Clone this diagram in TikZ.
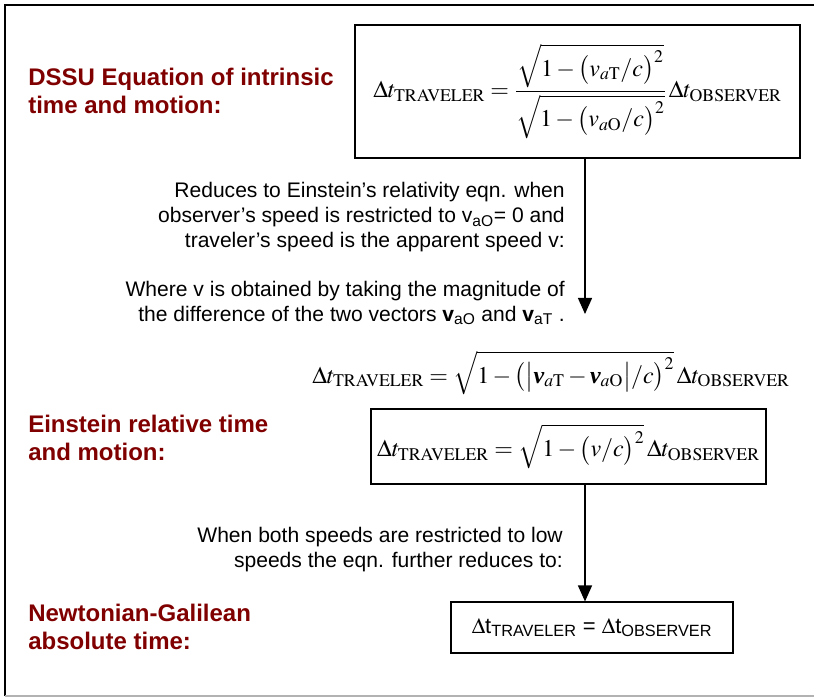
\documentclass[tikz,border=0pt]{standalone}
\usepackage{mathptmx}
\usepackage[no-math]{fontspec}
\setmainfont{Liberation Serif}
\setsansfont{Liberation Sans}
\usetikzlibrary{arrows.meta}
\definecolor{lblred}{RGB}{128,0,0}
\newcommand{\bvec}{\mbox{\normalfont\bfseries\itshape v}}
\newcommand{\TR}{\mathrm{TRAVELER}}
\newcommand{\OB}{\mathrm{OBSERVER}}
\tikzset{
  redlbl/.style={anchor=west,align=left,inner sep=0pt,text=lblred,
    font=\sffamily\bfseries\fontsize{18}{21}\selectfont},
  notetxt/.style={anchor=east,align=right,inner sep=0pt,
    font=\sffamily\fontsize{15.8}{18.75}\selectfont},
  eqbox/.style={draw,line width=0.8pt,inner sep=0pt},
  eqfont/.style={font=\fontsize{18}{21}\selectfont},
  flowarrow/.style={line width=1pt,-{Triangle[length=12pt,width=10.5pt]}}
}
\begin{document}
\begin{tikzpicture}[x=0.75pt,y=0.75pt,yscale=-1,xscale=1]
\useasboundingbox (0,0) rectangle (814,698);

% frame
\draw [line width=1.2pt] (5,696) -- (5,5) -- (814,5);
\draw [color=black!30,line width=1.2pt] (5,696) -- (814,696);

% labels on the left
\node [redlbl] (dssu) at (28,91) {DSSU Equation of intrinsic\\time and motion:};
\node [redlbl] (einst) at (28,437.5) {Einstein relative time\\and motion:};
\node [redlbl] (newt) at (28,627) {Newtonian-Galilean\\absolute time:};

% equation boxes
\node [eqbox,eqfont,minimum width=333.75pt,minimum height=99.75pt] (box1) at (577.5,91.5)
  {$\displaystyle \Delta t_{\TR}=\frac{\sqrt{1-\bigl(v_{a\mathrm{T}}/c\bigr)^{2}}}{\sqrt{1-\bigl(v_{a\mathrm{O}}/c\bigr)^{2}}}\,\Delta t_{\OB}$};
\node [eqfont,inner sep=0pt] (eqdiff) at (551,373)
  {$\Delta t_{\TR}=\sqrt{1-\bigl(\bigl|\bvec_{a\mathrm{T}}-\bvec_{a\mathrm{O}}\bigr|/c\bigr)^{2}}\,\Delta t_{\OB}$};
\node [eqbox,eqfont,minimum width=296.25pt,minimum height=56.25pt] (box2) at (568.5,446.5)
  {$\Delta t_{\TR}=\sqrt{1-\bigl(v/c\bigr)^{2}}\,\Delta t_{\OB}$};
\node [eqbox,minimum width=211.5pt,minimum height=38.25pt,font=\sffamily\fontsize{16.5}{19}\selectfont] (box3) at (592,627.5)
  {$\Delta$t\textsubscript{TRAVELER} = $\Delta$t\textsubscript{OBSERVER}};

% notes
\node [notetxt] (note1) at (565,217) {Reduces to Einstein’s relativity eqn. when\\observer’s speed is restricted to v\textsubscript{aO}= 0 and\\traveler’s speed is the apparent speed v:};
\node [notetxt] (note2) at (565,303) {Where v is obtained by taking the magnitude of\\the difference of the two vectors \textbf{v}\textsubscript{aO} and \textbf{v}\textsubscript{aT} .};
\node [notetxt] (note3) at (563,550) {When both speeds are restricted to low\\speeds the eqn. further reduces to:};

% arrows
\coordinate (tip1) at (585,314);
\draw [flowarrow] (box1.south -| tip1) -- (tip1);
\draw [flowarrow] (box2.south -| tip1) -- (box3.north -| tip1);

\end{tikzpicture}
\end{document}
